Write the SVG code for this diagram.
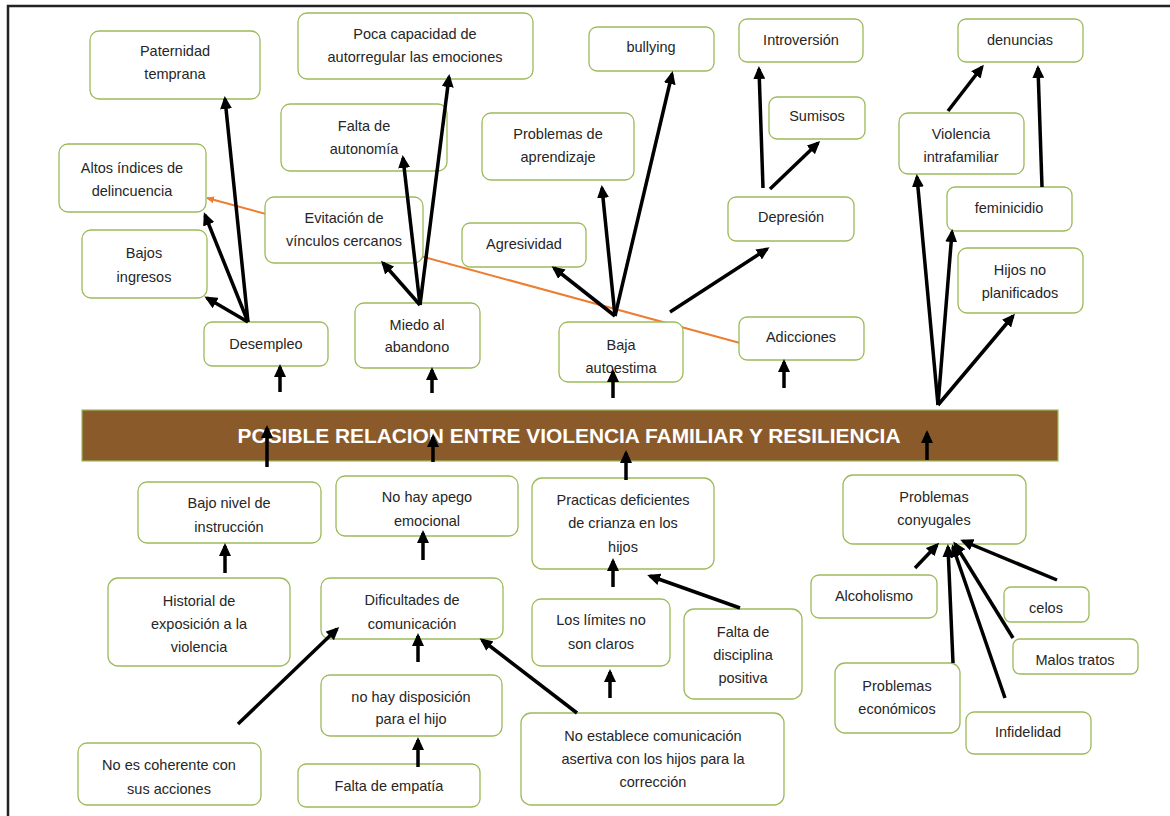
<svg xmlns="http://www.w3.org/2000/svg" width="1170" height="816" viewBox="0 0 1170 816">
<defs>
<style>
.n rect{fill:#ffffff;stroke:#9bbb59;stroke-width:1.3}
.n text{font-family:"Liberation Sans",Arial,sans-serif;font-size:14.5px;fill:#262626;text-anchor:middle}
.c line{stroke:#000;stroke-width:3.5;marker-end:url(#ah)}
.title{font-family:"Liberation Sans",Arial,sans-serif;font-size:20px;font-weight:bold;fill:#ffffff;text-anchor:middle}
</style>
<marker id="ah" markerUnits="userSpaceOnUse" viewBox="0 0 13 12" refX="10" refY="6" markerWidth="13" markerHeight="12" orient="auto">
<path d="M0,0 L13,6 L0,12 z" fill="#000"/>
</marker>
<marker id="oh" markerUnits="userSpaceOnUse" viewBox="0 0 8 7" refX="7" refY="3.5" markerWidth="8" markerHeight="7" orient="auto">
<path d="M0,0 L8,3.5 L0,7 z" fill="#ed7d31"/>
</marker>
</defs>
<rect x="0" y="0" width="1170" height="816" fill="#ffffff"/>
<path d="M8,816 L8,6 L1170,6" fill="none" stroke="#222" stroke-width="2.5"/>

<g id="connector-orange">
<line x1="740" y1="343" x2="207" y2="198" stroke="#ed7d31" stroke-width="2" marker-end="url(#oh)"/>
</g>

<g id="bar">
<rect x="82" y="410" width="976" height="51" fill="#8b5a2b" stroke="#9bbb59" stroke-width="1.2"/>
<text class="title" x="569" y="443" textLength="663" lengthAdjust="spacingAndGlyphs">POSIBLE RELACION ENTRE VIOLENCIA FAMILIAR Y RESILIENCIA</text>
</g>

<g id="n-paternidad" class="n"><rect x="90" y="31" width="170" height="68" rx="9"/><text x="175" y="56">Paternidad</text><text x="175" y="79">temprana</text></g>
<g id="n-poca" class="n"><rect x="298" y="13" width="235" height="66" rx="9"/><text x="415" y="39">Poca capacidad de</text><text x="415" y="62">autorregular las emociones</text></g>
<g id="n-falta-autonomia" class="n"><rect x="281" y="104" width="166" height="67" rx="9"/><text x="364" y="131">Falta de</text><text x="364" y="154">autonomía</text></g>
<g id="n-altos" class="n"><rect x="59" y="144" width="147" height="68" rx="9"/><text x="132" y="173">Altos índices de</text><text x="132" y="196">delincuencia</text></g>
<g id="n-evitacion" class="n"><rect x="265" y="197" width="158" height="66" rx="9"/><text x="344" y="223">Evitación de</text><text x="344" y="246">vínculos cercanos</text></g>
<g id="n-bajos" class="n"><rect x="82" y="230" width="125" height="68" rx="9"/><text x="144" y="258">Bajos</text><text x="144" y="282">ingresos</text></g>
<g id="n-desempleo" class="n"><rect x="204" y="322" width="124" height="44" rx="8"/><text x="266" y="349">Desempleo</text></g>
<g id="n-miedo" class="n"><rect x="355" y="303" width="125" height="65" rx="9"/><text x="417" y="330">Miedo al</text><text x="417" y="352">abandono</text></g>
<g id="n-bullying" class="n"><rect x="589" y="27" width="125" height="44" rx="8"/><text x="651" y="52">bullying</text></g>
<g id="n-aprendizaje" class="n"><rect x="482" y="113" width="152" height="67" rx="9"/><text x="558" y="139">Problemas de</text><text x="558" y="162">aprendizaje</text></g>
<g id="n-agresividad" class="n"><rect x="462" y="223" width="124" height="44" rx="8"/><text x="524" y="249">Agresividad</text></g>
<g id="n-baja" class="n"><rect x="559" y="322" width="124" height="60" rx="9"/><text x="621" y="350">Baja</text><text x="621" y="373">autoestima</text></g>
<g id="n-introversion" class="n"><rect x="739" y="19" width="124" height="43" rx="8"/><text x="801" y="45">Introversión</text></g>
<g id="n-sumisos" class="n"><rect x="769" y="97" width="96" height="42" rx="8"/><text x="817" y="121">Sumisos</text></g>
<g id="n-depresion" class="n"><rect x="728" y="197" width="126" height="44" rx="8"/><text x="791" y="222">Depresión</text></g>
<g id="n-adicciones" class="n"><rect x="739" y="317" width="125" height="43" rx="8"/><text x="801" y="342">Adicciones</text></g>
<g id="n-denuncias" class="n"><rect x="958" y="19" width="125" height="43" rx="8"/><text x="1020" y="45">denuncias</text></g>
<g id="n-violencia" class="n"><rect x="899" y="113" width="125" height="61" rx="9"/><text x="961" y="139">Violencia</text><text x="961" y="162">intrafamiliar</text></g>
<g id="n-feminicidio" class="n"><rect x="947" y="187" width="125" height="44" rx="8"/><text x="1009" y="213">feminicidio</text></g>
<g id="n-hijos" class="n"><rect x="958" y="248" width="125" height="65" rx="9"/><text x="1020" y="275">Hijos no</text><text x="1020" y="298">planificados</text></g>

<g id="n-bajo-nivel" class="n"><rect x="138" y="482" width="183" height="61" rx="9"/><text x="229" y="508">Bajo nivel de</text><text x="229" y="532">instrucción</text></g>
<g id="n-apego" class="n"><rect x="336" y="476" width="182" height="60" rx="9"/><text x="427" y="502">No hay apego</text><text x="427" y="526">emocional</text></g>
<g id="n-practicas" class="n"><rect x="532" y="478" width="182" height="91" rx="10"/><text x="623" y="505">Practicas deficientes</text><text x="623" y="528">de crianza en los</text><text x="623" y="552">hijos</text></g>
<g id="n-conyugales" class="n"><rect x="843" y="475" width="183" height="69" rx="10"/><text x="934" y="502">Problemas</text><text x="934" y="525">conyugales</text></g>
<g id="n-historial" class="n"><rect x="108" y="578" width="182" height="88" rx="10"/><text x="199" y="606">Historial de</text><text x="199" y="629">exposición a la</text><text x="199" y="652">violencia</text></g>
<g id="n-dificultades" class="n"><rect x="321" y="578" width="182" height="61" rx="9"/><text x="412" y="605">Dificultades de</text><text x="412" y="629">comunicación</text></g>
<g id="n-limites" class="n"><rect x="532" y="599" width="138" height="67" rx="9"/><text x="601" y="625">Los límites no</text><text x="601" y="649">son claros</text></g>
<g id="n-disciplina" class="n"><rect x="684" y="609" width="118" height="90" rx="10"/><text x="743" y="637">Falta de</text><text x="743" y="660">disciplina</text><text x="743" y="683">positiva</text></g>
<g id="n-alcoholismo" class="n"><rect x="811" y="575" width="126" height="43" rx="8"/><text x="874" y="601">Alcoholismo</text></g>
<g id="n-celos" class="n"><rect x="1004" y="587" width="85" height="35" rx="7"/><text x="1046" y="613">celos</text></g>
<g id="n-malos" class="n"><rect x="1013" y="639" width="125" height="35" rx="7"/><text x="1075" y="665">Malos tratos</text></g>
<g id="n-economicos" class="n"><rect x="835" y="663" width="125" height="70" rx="10"/><text x="897" y="691">Problemas</text><text x="897" y="714">económicos</text></g>
<g id="n-infidelidad" class="n"><rect x="966" y="712" width="125" height="42" rx="8"/><text x="1028" y="737">Infidelidad</text></g>
<g id="n-disposicion" class="n"><rect x="321" y="675" width="181" height="61" rx="9"/><text x="411" y="702">no hay disposición</text><text x="411" y="724">para el hijo</text></g>
<g id="n-coherente" class="n"><rect x="78" y="743" width="183" height="62" rx="9"/><text x="169" y="770">No es coherente con</text><text x="169" y="794">sus acciones</text></g>
<g id="n-empatia" class="n"><rect x="298" y="764" width="182" height="43" rx="8"/><text x="389" y="791">Falta de empatía</text></g>
<g id="n-asertiva" class="n"><rect x="521" y="713" width="263" height="92" rx="10"/><text x="653" y="741">No establece comunicación</text><text x="653" y="764">asertiva con los hijos para la</text><text x="653" y="787">corrección</text></g>

<g id="connectors" class="c">
<line x1="248" y1="322" x2="225" y2="99"/>
<line x1="248" y1="322" x2="205" y2="215"/>
<line x1="248" y1="322" x2="207" y2="298"/>
<line x1="280" y1="392" x2="280" y2="367"/>
<line x1="420" y1="305" x2="383" y2="263"/>
<line x1="420" y1="305" x2="403" y2="158"/>
<line x1="420" y1="305" x2="449" y2="77"/>
<line x1="432" y1="393" x2="432" y2="370"/>
<line x1="615" y1="316" x2="554" y2="268"/>
<line x1="615" y1="316" x2="602" y2="188"/>
<line x1="615" y1="316" x2="672" y2="74"/>
<line x1="670" y1="312" x2="767" y2="249"/>
<line x1="613" y1="398" x2="613" y2="372"/>
<line x1="763" y1="188" x2="759" y2="69"/>
<line x1="770" y1="189" x2="818" y2="143"/>
<line x1="784" y1="388" x2="784" y2="362"/>
<line x1="938" y1="405" x2="917" y2="177"/>
<line x1="938" y1="405" x2="952" y2="232"/>
<line x1="938" y1="405" x2="1013" y2="316"/>
<line x1="948" y1="111" x2="982" y2="67"/>
<line x1="1042" y1="187" x2="1038" y2="68"/>
<line x1="267" y1="467" x2="267" y2="428"/>
<line x1="433" y1="462" x2="433" y2="437"/>
<line x1="626" y1="480" x2="626" y2="453"/>
<line x1="927" y1="460" x2="927" y2="433"/>
<line x1="225" y1="573" x2="225" y2="546"/>
<line x1="238" y1="724" x2="337" y2="629"/>
<line x1="423" y1="560" x2="423" y2="533"/>
<line x1="418" y1="662" x2="418" y2="636"/>
<line x1="418" y1="767" x2="418" y2="740"/>
<line x1="577" y1="713" x2="482" y2="640"/>
<line x1="613" y1="587" x2="613" y2="561"/>
<line x1="610" y1="698" x2="610" y2="672"/>
<line x1="740" y1="608" x2="650" y2="576"/>
<line x1="915" y1="568" x2="937" y2="545"/>
<line x1="953" y1="663" x2="948" y2="547"/>
<line x1="1005" y1="698" x2="953" y2="547"/>
<line x1="1013" y1="638" x2="955" y2="544"/>
<line x1="1057" y1="580" x2="963" y2="541"/>
</g>
</svg>
